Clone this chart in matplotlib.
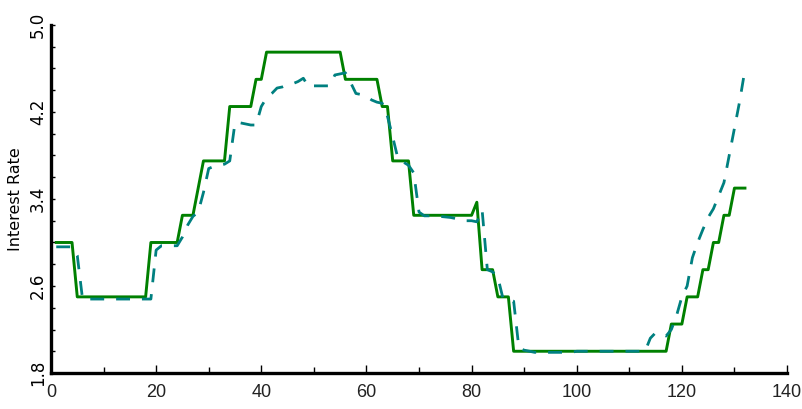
import numpy as np
import matplotlib
matplotlib.use("Agg")
import matplotlib.pyplot as plt
from matplotlib.ticker import MultipleLocator

# months 1..132
months = np.arange(1, 133)

actual = [
    3.0, 3.0, 3.0, 3.0, 2.5, 2.5, 2.5, 2.5, 2.5, 2.5,
    2.5, 2.5, 2.5, 2.5, 2.5, 2.5, 2.5, 2.5, 3.0, 3.0,
    3.0, 3.0, 3.0, 3.0, 3.25, 3.25, 3.25, 3.5, 3.75, 3.75,
    3.75, 3.75, 3.75, 4.25, 4.25, 4.25, 4.25, 4.25, 4.5, 4.5,
    4.75, 4.75, 4.75, 4.75, 4.75, 4.75, 4.75, 4.75, 4.75, 4.75,
    4.75, 4.75, 4.75, 4.75, 4.75, 4.5, 4.5, 4.5, 4.5, 4.5,
    4.5, 4.5, 4.25, 4.25, 3.75, 3.75, 3.75, 3.75, 3.25, 3.25,
    3.25, 3.25, 3.25, 3.25, 3.25, 3.25, 3.25, 3.25, 3.25, 3.25,
    3.37, 2.75, 2.75, 2.75, 2.5, 2.5, 2.5, 2.0, 2.0, 2.0,
    2.0, 2.0, 2.0, 2.0, 2.0, 2.0, 2.0, 2.0, 2.0, 2.0,
    2.0, 2.0, 2.0, 2.0, 2.0, 2.0, 2.0, 2.0, 2.0, 2.0,
    2.0, 2.0, 2.0, 2.0, 2.0, 2.0, 2.0, 2.25, 2.25, 2.25,
    2.5, 2.5, 2.5, 2.75, 2.75, 3.0, 3.0, 3.25, 3.25, 3.5,
    3.5, 3.5,
]

predicted = [
    2.96, 2.96, 2.96, 2.96, 2.88, 2.48, 2.48, 2.48, 2.48, 2.48,
    2.48, 2.48, 2.48, 2.48, 2.48, 2.48, 2.48, 2.48, 2.48, 2.93,
    2.97, 2.97, 2.97, 2.97, 3.05, 3.16, 3.24, 3.28, 3.46, 3.68,
    3.70, 3.71, 3.72, 3.75, 4.10, 4.10, 4.09, 4.08, 4.08, 4.25,
    4.33, 4.37, 4.42, 4.43, 4.45, 4.46, 4.48, 4.51, 4.43, 4.44,
    4.44, 4.44, 4.44, 4.54, 4.55, 4.56, 4.47, 4.37, 4.36, 4.345,
    4.31, 4.29, 4.28, 4.16, 3.97, 3.77, 3.74, 3.71, 3.64, 3.28,
    3.245, 3.245, 3.245, 3.24, 3.235, 3.23, 3.22, 3.215, 3.20, 3.20,
    3.19, 3.30, 2.75, 2.73, 2.68, 2.48, 2.47, 2.46, 2.03, 2.01,
    2.00, 1.99, 1.99, 1.99, 1.99, 1.99, 1.99, 1.99, 1.99, 2.00,
    2.00, 2.00, 2.00, 2.00, 2.00, 2.00, 2.00, 2.00, 2.00, 2.00,
    2.00, 2.00, 2.00, 2.12, 2.17, 2.16, 2.14, 2.20, 2.33, 2.50,
    2.60, 2.86, 3.00, 3.12, 3.23, 3.31, 3.43, 3.55, 3.80, 4.05,
    4.30, 4.59,
]

fig = plt.figure(figsize=(8.03, 4.09), dpi=100)
ax = fig.add_axes([0.0635, 0.088, 0.9166, 0.851])

ax.plot(months, actual, color="green", lw=2.1)
ax.plot(months, predicted, color="teal", lw=2.0, dashes=(5, 4.3))

ax.set_xlim(0, 140)
ax.set_ylim(1.8, 5.0)
ax.xaxis.set_major_locator(MultipleLocator(20))
ax.xaxis.set_minor_locator(MultipleLocator(10))
ax.yaxis.set_minor_locator(MultipleLocator(0.2))
ax.set_yticks([1.8, 2.6, 3.4, 4.2, 5.0])
ax.set_yticklabels(["1.8", "2.6", "3.4", "4.2", "5.0"])

for s in ["top", "right"]:
    ax.spines[s].set_visible(False)
for s in ["left", "bottom"]:
    ax.spines[s].set_linewidth(2.4)

ax.tick_params(axis="x", which="major", direction="in", length=6, width=1, pad=8)
ax.tick_params(axis="x", which="minor", direction="in", length=4, width=1)
ax.tick_params(axis="y", which="both", direction="in", length=3, width=1, pad=3)
ax.tick_params(axis="y", labelrotation=90)

for lab in ax.get_xticklabels():
    lab.set_fontfamily("Liberation Sans")
    lab.set_fontsize(13)
    lab.set_color("#222222")
for lab in ax.get_yticklabels():
    lab.set_fontsize(12)
    lab.set_verticalalignment("center")

ax.set_ylabel("Interest Rate", fontsize=11.5)
ax.yaxis.set_label_coords(-0.038, 0.5)

fig.savefig("out.png", dpi=100)
